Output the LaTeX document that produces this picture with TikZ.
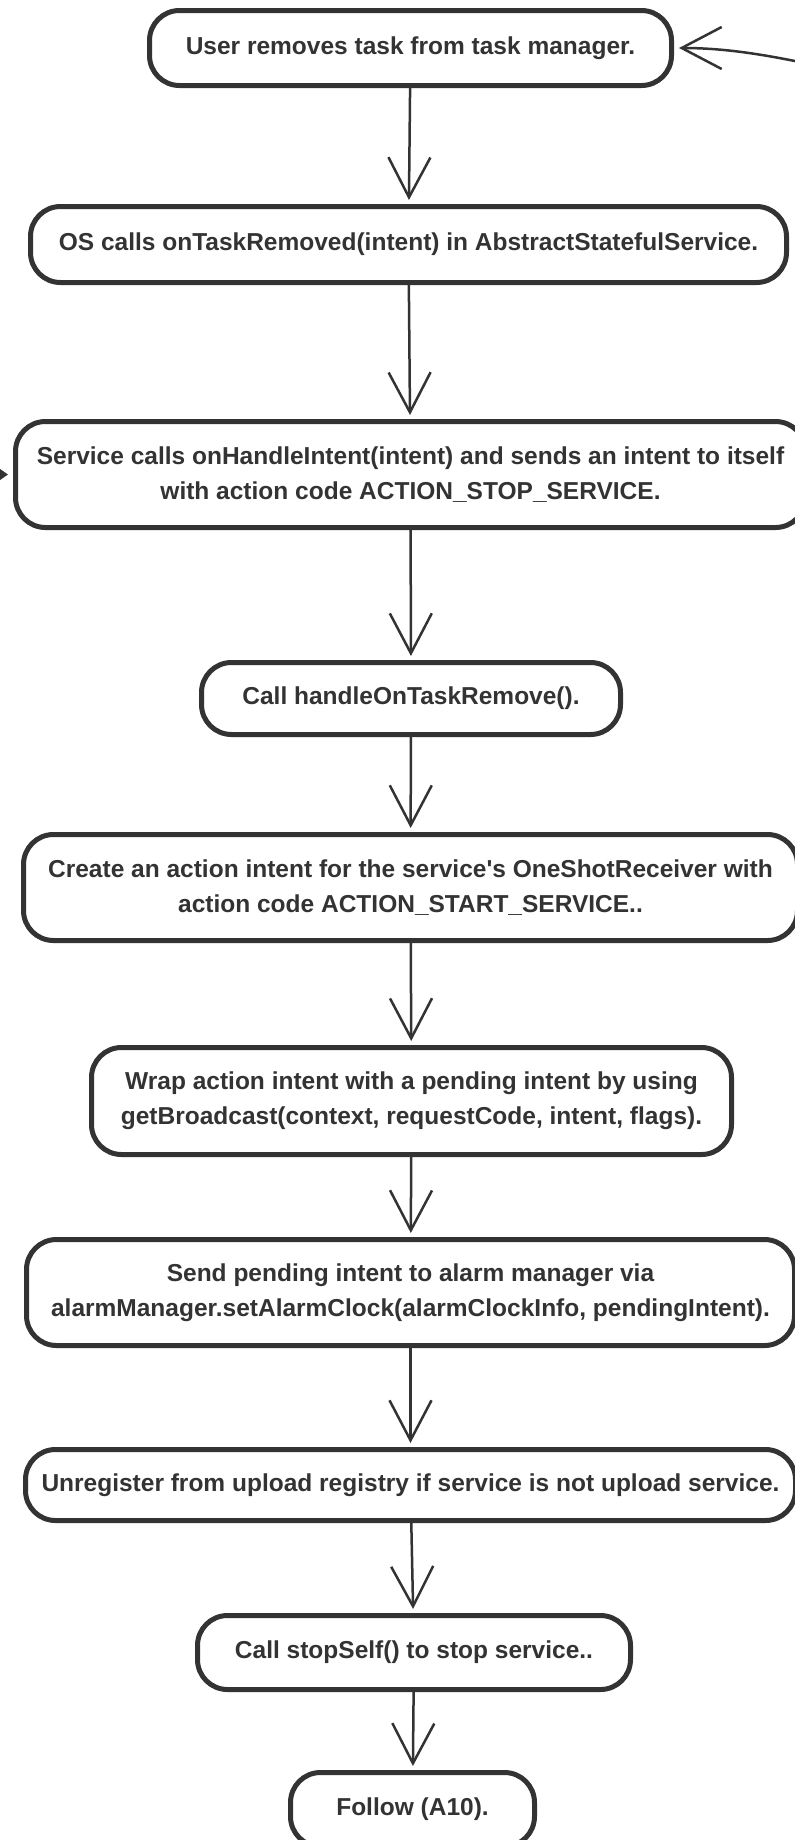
\documentclass[tikz,border=0pt]{standalone}
\usepackage{fontspec}
\setmainfont{Liberation Sans}
\usetikzlibrary{arrows.meta}
\definecolor{ink}{HTML}{333333}

\begin{document}
\begin{tikzpicture}[x=1pt, y=-1pt,
    every node/.style={draw=ink, line width=5pt, rounded corners=30pt, text=ink, align=center, inner sep=0pt, font=\fontsize{24.5}{35}\selectfont\bfseries},
    flow/.style={draw=ink, line width=2.5pt, shorten >=4pt, -{Straight Barb[length=40pt, width=42pt]}}]
  \useasboundingbox (0,0) rectangle (795,1840);
  \clip (0,0) rectangle (795,1840);

  \node[minimum width=522pt, minimum height=75pt] (user) at (410.5,48) {User removes task from task manager.};
  \node[minimum width=756pt, minimum height=76pt] (taskrm) at (408.5,244.5) {OS calls onTaskRemoved(intent) in AbstractStatefulService.};
  \node[minimum width=790pt, minimum height=106pt] (selfint) at (410.5,474.5) {Service calls onHandleIntent(intent) and sends an intent to itself\\ with action code ACTION\_STOP\_SERVICE.};
  \node[minimum width=419pt, minimum height=72pt] (handle) at (411,698.5) {Call handleOnTaskRemove().};
  \node[minimum width=774pt, minimum height=106pt] (action) at (410.5,887.5) {Create an action intent for the service\textquotesingle s OneShotReceiver with\\ action code ACTION\_START\_SERVICE..};
  \node[minimum width=640pt, minimum height=107pt] (pending) at (411.5,1101) {Wrap action intent with a pending intent by using\\ getBroadcast(context, requestCode, intent, flags).};
  \node[minimum width=768pt, minimum height=106pt] (alarm) at (410.5,1292.5) {Send pending intent to alarm manager via\\ alarmManager.setAlarmClock(alarmClockInfo, pendingIntent).};
  \node[minimum width=770pt, minimum height=71pt] (unreg) at (410.5,1485) {Unregister from upload registry if service is not upload service.};
  \node[minimum width=433pt, minimum height=74pt] (stop) at (414,1652.5) {Call stopSelf() to stop service..};
  \node[minimum width=244pt, minimum height=74pt] (follow) at (412.5,1809.5) {Follow (A10).};

  % links coming in from outside the frame
  \coordinate (fromright) at (870,78);
  \coordinate (fromleft) at (-60,474.5);

  \draw[flow] (user) -- (taskrm);
  \draw[flow] (taskrm) -- (selfint);
  \draw[flow] (selfint) -- (handle);
  \draw[flow] (handle) -- (action);
  \draw[flow] (action) -- (pending);
  \draw[flow] (pending) -- (alarm);
  \draw[flow] (alarm) -- (unreg);
  \draw[flow] (unreg) -- (stop);
  \draw[flow] (stop) -- (follow);

  \draw[flow, shorten >=5pt] (fromright) .. controls (780,56) and (730,48) .. (user.east);
  \draw[draw=ink, line width=2.5pt, shorten >=5pt, -{Triangle[length=12pt, width=16pt]}] (fromleft) -- (selfint.west);
\end{tikzpicture}
\end{document}
